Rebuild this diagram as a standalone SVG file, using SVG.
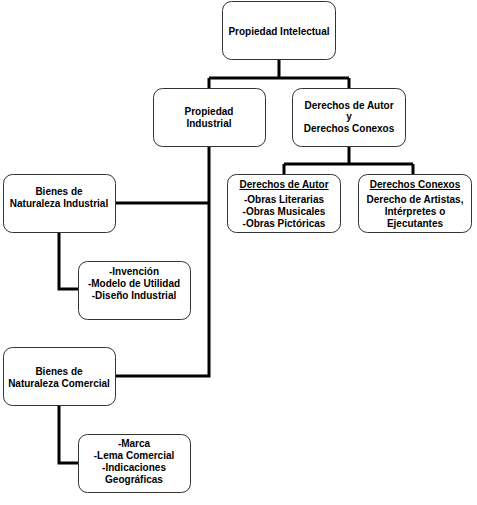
<svg xmlns="http://www.w3.org/2000/svg" width="477" height="505" viewBox="0 0 477 505">
<style>
.box{fill:#fff;stroke:#333;stroke-width:1}
.t{font-family:"Liberation Sans",Arial,sans-serif;font-size:10px;font-weight:bold;fill:#000;text-anchor:middle}
.u{text-decoration:underline}
.c{fill:none;stroke:#000;stroke-width:3}
</style>
<rect width="477" height="505" fill="#fff"/>
<g id="connectors">
<path class="c" d="M279,59 V78 M209,78 H349 M209,78 V88 M349,78 V88"/>
<path class="c" d="M209,146 V376 H115 M115,203 H209"/>
<path class="c" d="M349,146 V164 M284,164 H413 M284,164 V174 M413,164 V174"/>
<path class="c" d="M59,232 V289 H78"/>
<path class="c" d="M59,405 V463 H78"/>
</g>
<g id="propiedad-intelectual">
<rect class="box" x="222.5" y="1.5" width="113" height="58" rx="9"/>
<text class="t" x="279" y="35">Propiedad Intelectual</text>
</g>
<g id="propiedad-industrial">
<rect class="box" x="153.5" y="88.5" width="112" height="58" rx="9"/>
<text class="t" x="209" y="115">Propiedad</text>
<text class="t" x="209" y="127">Industrial</text>
</g>
<g id="derechos-autor-conexos">
<rect class="box" x="292.5" y="88.5" width="113" height="58" rx="9"/>
<text class="t" x="349" y="109">Derechos de Autor</text>
<text class="t" x="349" y="120">y</text>
<text class="t" x="349" y="132">Derechos Conexos</text>
</g>
<g id="derechos-autor">
<rect class="box" x="227.5" y="174.5" width="113" height="58" rx="9"/>
<text class="t u" x="284" y="188">Derechos de Autor</text>
<text class="t" x="284" y="203">-Obras Literarias</text>
<text class="t" x="284" y="215">-Obras Musicales</text>
<text class="t" x="284" y="227">-Obras Pictóricas</text>
</g>
<g id="derechos-conexos">
<rect class="box" x="358.5" y="174.5" width="113" height="58" rx="9"/>
<text class="t u" x="415" y="188">Derechos Conexos</text>
<text class="t" x="415" y="203">Derecho de Artistas,</text>
<text class="t" x="415" y="215">Intérpretes o</text>
<text class="t" x="415" y="227">Ejecutantes</text>
</g>
<g id="bienes-industrial">
<rect class="box" x="3.5" y="174.5" width="112" height="58" rx="9"/>
<text class="t" x="59" y="195">Bienes de</text>
<text class="t" x="59" y="207">Naturaleza Industrial</text>
</g>
<g id="invencion">
<rect class="box" x="78.5" y="261.5" width="112" height="58" rx="9"/>
<text class="t" x="134" y="275">-Invención</text>
<text class="t" x="134" y="287">-Modelo de Utilidad</text>
<text class="t" x="134" y="299">-Diseño Industrial</text>
</g>
<g id="bienes-comercial">
<rect class="box" x="3.5" y="347.5" width="112" height="58" rx="9"/>
<text class="t" x="59" y="375">Bienes de</text>
<text class="t" x="59" y="387">Naturaleza Comercial</text>
</g>
<g id="marca">
<rect class="box" x="78.5" y="434.5" width="112" height="58" rx="9"/>
<text class="t" x="134" y="447">-Marca</text>
<text class="t" x="134" y="459">-Lema Comercial</text>
<text class="t" x="134" y="471">-Indicaciones</text>
<text class="t" x="134" y="483">Geográficas</text>
</g>
</svg>
